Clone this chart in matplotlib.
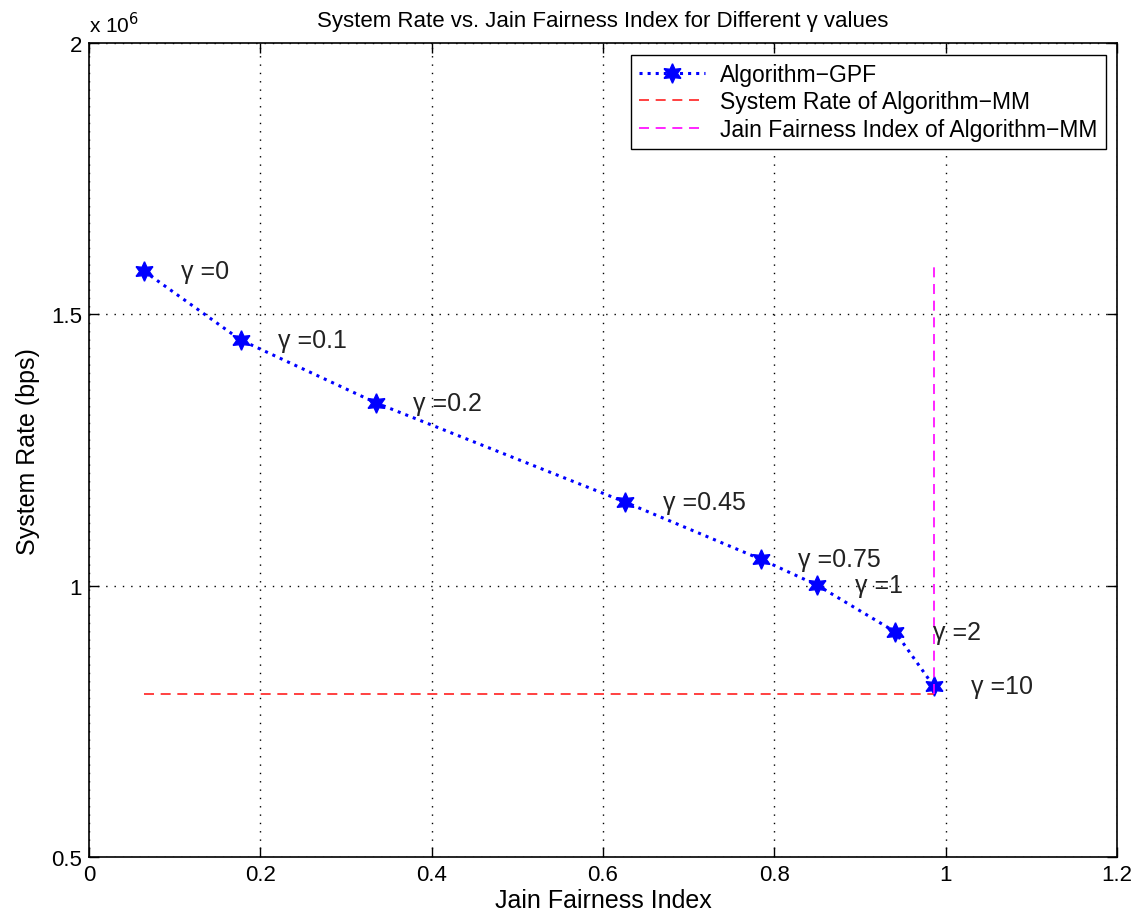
import matplotlib
matplotlib.use("Agg")
import matplotlib.pyplot as plt
from matplotlib.ticker import FixedLocator

plt.rcParams['font.family'] = ['Liberation Sans', 'DejaVu Sans']

# Data
jain = [0.064, 0.177, 0.335, 0.626, 0.784, 0.850, 0.941, 0.986]
rate = [1.580e6, 1.453e6, 1.337e6, 1.154e6, 1.049e6, 1.001e6, 0.915e6, 0.815e6]
gamma_labels = ['0', '0.1', '0.2', '0.45', '0.75', '1', '2', '10']
mm_rate = 0.80e6
mm_jain = 0.986
mm_rate_xrange = [0.064, 0.986]
mm_jain_yrange = [0.80e6, 1.587e6]

xticks = [0, 0.2, 0.4, 0.6, 0.8, 1.0, 1.2]
xtick_labels = ['0', '0.2', '0.4', '0.6', '0.8', '1', '1.2']
yticks = [0.5e6, 1.0e6, 1.5e6, 2.0e6]
ytick_labels = ['0.5', '1', '1.5', '2']

fig = plt.figure(figsize=(11.37, 9.2), dpi=100)
ax = fig.add_axes([0.0783, 0.0674, 0.9041, 0.8846])

ax.plot(jain, rate, linestyle=':', color='blue', linewidth=2.2,
        marker=(6, 1, 0), markersize=14, markerfacecolor='blue',
        markeredgecolor='blue', label='Algorithm\u2212GPF')
ax.plot(mm_rate_xrange, [mm_rate, mm_rate], linestyle=(0, (6, 4)), color='#ff2020',
        linewidth=1.2, label='System Rate of Algorithm\u2212MM')
ax.plot([mm_jain, mm_jain], mm_jain_yrange, linestyle=(0, (6, 4)), color='#ff00ff',
        linewidth=1.2, label='Jain Fairness Index of Algorithm\u2212MM')

for x, y, g in zip(jain, rate, gamma_labels):
    ax.annotate('\u03b3 =' + g, (x, y), xytext=(27, 0), textcoords='offset points',
                ha='left', va='center', fontsize=18, color='#222222')

ax.set_xlim(0, 1.2)
ax.set_ylim(0.5e6, 2.0e6)
ax.xaxis.set_major_locator(FixedLocator(xticks))
ax.yaxis.set_major_locator(FixedLocator(yticks))
ax.set_xticklabels(xtick_labels)
ax.set_yticklabels(ytick_labels)
ax.tick_params(direction='in', top=True, right=True, length=7, width=1,
               labelsize=16, pad=5)
ax.grid(True, color='black', linestyle=(0, (1, 5)), linewidth=1.0)
for s in ax.spines.values():
    s.set_linewidth(1.2)

ax.set_xlabel('Jain Fairness Index', fontsize=18, labelpad=2)
ax.set_ylabel('System Rate (bps)', fontsize=18, labelpad=8)
ax.set_title('System Rate vs. Jain Fairness Index for Different \u03b3 values',
             fontsize=16, pad=12)
ax.text(0.0, 1.008, 'x 10$^{6}$', transform=ax.transAxes, fontsize=15,
        ha='left', va='bottom')

leg = ax.legend(loc='upper right', fontsize=16.5, frameon=True, fancybox=False,
                edgecolor='black', framealpha=1, handlelength=2.9,
                handletextpad=0.65, borderaxespad=0.5, labelspacing=0.2,
                borderpad=0.35)
leg.get_frame().set_linewidth(1.0)

fig.savefig('out.png', dpi=100)
